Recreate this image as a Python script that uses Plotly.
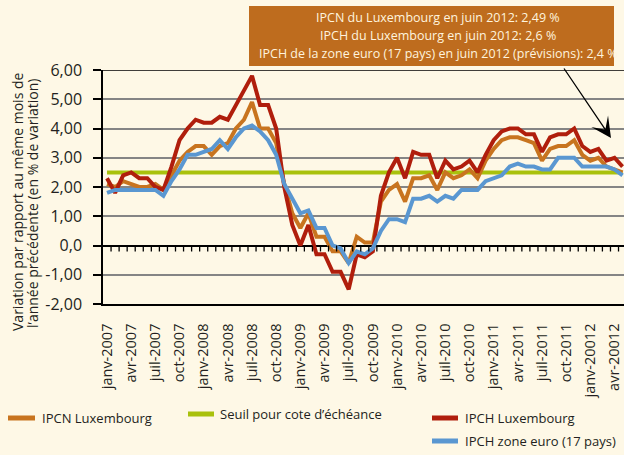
import plotly.graph_objects as go

# ---------------- data ----------------
mois_abbr = ["janv", "févr", "mars", "avr", "mai", "juin",
             "juil", "août", "sept", "oct", "nov", "déc"]
annees = [2007, 2008, 2009, 2010, 2011, 2012]
months = [f"{m}-{a}" for a in annees for m in mois_abbr][:65]   # janv-2007 .. mai-2012

tick_labels = ["janv-2007", "avr-2007", "juil-2007", "oct-2007",
               "janv-2008", "avr-2008", "juil-2008", "oct-2008",
               "janv-2009", "avr-2009", "juil-2009", "oct-2009",
               "janv-2010", "avr-2010", "juil-2010", "oct-2010",
               "janv-2011", "avr-2011", "juil-2011", "oct-2011",
               "janv-20012", "avr-20012"]

ipcn_lux = [2.1, 2.0, 2.2, 2.1, 2.0, 2.0, 2.1, 1.9, 2.4, 2.9, 3.2, 3.4,
            3.4, 3.1, 3.4, 3.5, 4.0, 4.3, 4.9, 4.0, 4.0, 3.5, 2.1, 1.1,
            0.6, 1.1, 0.3, 0.3, -0.2, -0.2, -0.6, 0.3, 0.1, 0.1, 1.5, 1.9,
            2.1, 1.5, 2.3, 2.3, 2.4, 1.9, 2.5, 2.3, 2.4, 2.6, 2.3, 2.9,
            3.3, 3.6, 3.7, 3.7, 3.6, 3.5, 2.9, 3.3, 3.4, 3.4, 3.6, 3.1,
            2.9, 3.0, 2.7, 2.6, 2.5]

seuil = [2.5, 2.5, 2.5, 2.5, 2.5, 2.5, 2.5, 2.5, 2.5, 2.5, 2.5, 2.5,
         2.5, 2.5, 2.5, 2.5, 2.5, 2.5, 2.5, 2.5, 2.5, 2.5, 2.5, 2.5,
         2.5, 2.5, 2.5, 2.5, 2.5, 2.5, 2.5, 2.5, 2.5, 2.5, 2.5, 2.5,
         2.5, 2.5, 2.5, 2.5, 2.5, 2.5, 2.5, 2.5, 2.5, 2.5, 2.5, 2.5,
         2.5, 2.5, 2.5, 2.5, 2.5, 2.5, 2.5, 2.5, 2.5, 2.5, 2.5, 2.5,
         2.5, 2.5, 2.5, 2.5, 2.5]

ipch_lux = [2.3, 1.8, 2.4, 2.5, 2.3, 2.3, 2.0, 1.9, 2.7, 3.6, 4.0, 4.3,
            4.2, 4.2, 4.4, 4.3, 4.8, 5.3, 5.8, 4.8, 4.8, 4.0, 2.0, 0.7,
            0.0, 0.7, -0.3, -0.3, -0.9, -0.9, -1.5, -0.3, -0.4, -0.2, 1.7, 2.5,
            3.0, 2.3, 3.2, 3.1, 3.1, 2.3, 2.9, 2.6, 2.7, 2.9, 2.5, 3.1,
            3.6, 3.9, 4.0, 4.0, 3.8, 3.8, 3.2, 3.7, 3.8, 3.8, 4.0, 3.4,
            3.2, 3.3, 2.9, 3.0, 2.7]

ipch_ze = [1.8, 1.9, 1.9, 1.9, 1.9, 1.9, 1.9, 1.7, 2.2, 2.6, 3.1, 3.1,
           3.2, 3.3, 3.6, 3.3, 3.7, 4.0, 4.1, 3.9, 3.6, 3.1, 2.1, 1.6,
           1.1, 1.2, 0.6, 0.6, 0.0, -0.1, -0.6, -0.2, -0.3, -0.1, 0.5, 0.9,
           0.9, 0.8, 1.6, 1.6, 1.7, 1.5, 1.7, 1.6, 1.9, 1.9, 1.9, 2.2,
           2.3, 2.4, 2.7, 2.8, 2.7, 2.7, 2.6, 2.6, 3.0, 3.0, 3.0, 2.7,
           2.7, 2.7, 2.7, 2.6, 2.4]

y_tickvals = [-2, -1, 0, 1, 2, 3, 4, 5, 6]
y_ticktext = ["-2,00", "-1,00", "0,0", "1,00", "2,00", "3,00", "4,00", "5,00", "6,00"]

series_names = ["IPCN Luxembourg", "Seuil pour cote d’échéance",
                "IPCH Luxembourg", "IPCH zone euro (17 pays)"]
box_lines = ["IPCN du Luxembourg en juin 2012: 2,49 %",
             "IPCH du Luxembourg en juin 2012: 2,6 %",
             "IPCH de la zone euro (17 pays) en juin 2012 (prévisions): 2,4 %"]
y_title = ["Variation par rapport au même mois de",
           "l’année précédente (en % de variation)"]

# ---------------- style ----------------
W, H = 624, 455
L, R, T, B = 103, 0, 70, 151
BG = "#FEF8E6"
C_ORANGE = "#C8741F"
C_GREEN = "#A9C10C"
C_RED = "#B01E0C"
C_BLUE = "#5A97D1"
C_BOX = "#BE6C1E"
TXT = "#231F20"
FONT = "Open Sans"

pw, ph = W - L - R, H - T - B


def px(x):
    return (x - L) / pw


def py(y):
    return (H - B - y) / ph


fig = go.Figure()
for vals, col, name in [(seuil, C_GREEN, series_names[1]),
                        (ipcn_lux, C_ORANGE, series_names[0]),
                        (ipch_lux, C_RED, series_names[2]),
                        (ipch_ze, C_BLUE, series_names[3])]:
    fig.add_trace(go.Scatter(x=months, y=vals, mode="lines", name=name,
                             line=dict(color=col, width=4), hoverinfo="skip"))

shapes = []
# top border
shapes.append(dict(type="line", xref="paper", yref="y", x0=0, x1=1, y0=6, y1=6,
                   line=dict(color="black", width=1.5)))
# category tick marks hanging from the zero line
for k in range(64):
    shapes.append(dict(type="line", xref="x", yref="y", ysizemode="pixel", yanchor=0,
                       x0=k + 0.5, x1=k + 0.5, y0=0, y1=-6,
                       line=dict(color="black", width=1.3)))
# annotation box
shapes.append(dict(type="rect", xref="paper", yref="paper",
                   x0=px(249), x1=px(614), y0=py(66), y1=py(6),
                   fillcolor=C_BOX, line=dict(width=0)))
# legend swatches
for (x0, x1, yy, col) in [(8, 35, 418, C_ORANGE), (188, 214, 414, C_GREEN),
                          (432, 458, 418, C_RED), (432, 458, 441, C_BLUE)]:
    shapes.append(dict(type="line", xref="paper", yref="paper",
                       x0=px(x0), x1=px(x1), y0=py(yy), y1=py(yy),
                       line=dict(color=col, width=5)))

annotations = []
for txt, yy in zip(box_lines, [18, 35, 53]):
    annotations.append(dict(text=txt, xref="paper", yref="paper", x=px(438), y=py(yy),
                            showarrow=False, xanchor="center", yanchor="middle",
                            font=dict(family=FONT, size=12.5, color="#FFF4DE")))
# arrow
annotations.append(dict(text="", xref="paper", yref="paper", x=px(611), y=py(138),
                        ax=-48, ay=-71, showarrow=True, arrowhead=3, arrowsize=2.6,
                        arrowwidth=1.3, arrowcolor="black"))
# legend labels
for txt, xx, yy in [(series_names[0], 40, 418), (series_names[1], 218, 414),
                    (series_names[2], 463, 418), (series_names[3], 463, 441)]:
    annotations.append(dict(text=txt, xref="paper", yref="paper", x=px(xx), y=py(yy),
                            showarrow=False, xanchor="left", yanchor="middle",
                            font=dict(family=FONT, size=13, color=TXT)))
# y title
for txt, xx, yy in zip(y_title, [17, 32], [202, 204]):
    annotations.append(dict(text=txt, xref="paper", yref="paper", x=px(xx), y=py(yy),
                            showarrow=False, xanchor="center", yanchor="middle",
                            textangle=-90,
                            font=dict(family=FONT, size=14, color=TXT)))

fig.update_layout(
    width=W, height=H,
    margin=dict(l=L, r=R, t=T, b=B),
    paper_bgcolor=BG, plot_bgcolor=BG,
    showlegend=False,
    font=dict(family=FONT, color=TXT),
    shapes=shapes,
    annotations=annotations,
    xaxis=dict(type="category", range=[-0.5, 64.18],
               tickvals=months[::3], ticktext=tick_labels, tickangle=-90,
               tickfont=dict(family=FONT, size=14.5, color=TXT),
               showgrid=False, zeroline=False,
               showline=True, linecolor="black", linewidth=1.5,
               ticks="", ticklabelstandoff=12),
    yaxis=dict(range=[-2, 6], tickvals=y_tickvals, ticktext=y_ticktext,
               tickfont=dict(family=FONT, size=16, color=TXT),
               showgrid=True, gridcolor="#858585", gridwidth=1.5,
               zeroline=True, zerolinecolor="black", zerolinewidth=1.5,
               showline=True, linecolor="black", linewidth=1.5,
               ticks="outside", ticklen=8, tickcolor="black", tickwidth=1.5,
               ticklabelstandoff=8),
)

fig.write_html("out.html",
               config={"displayModeBar": False},
               post_script="document.body.style.margin='0px';"
                           "document.body.style.overflow='hidden';"
                           "document.body.style.background='" + BG + "';")
